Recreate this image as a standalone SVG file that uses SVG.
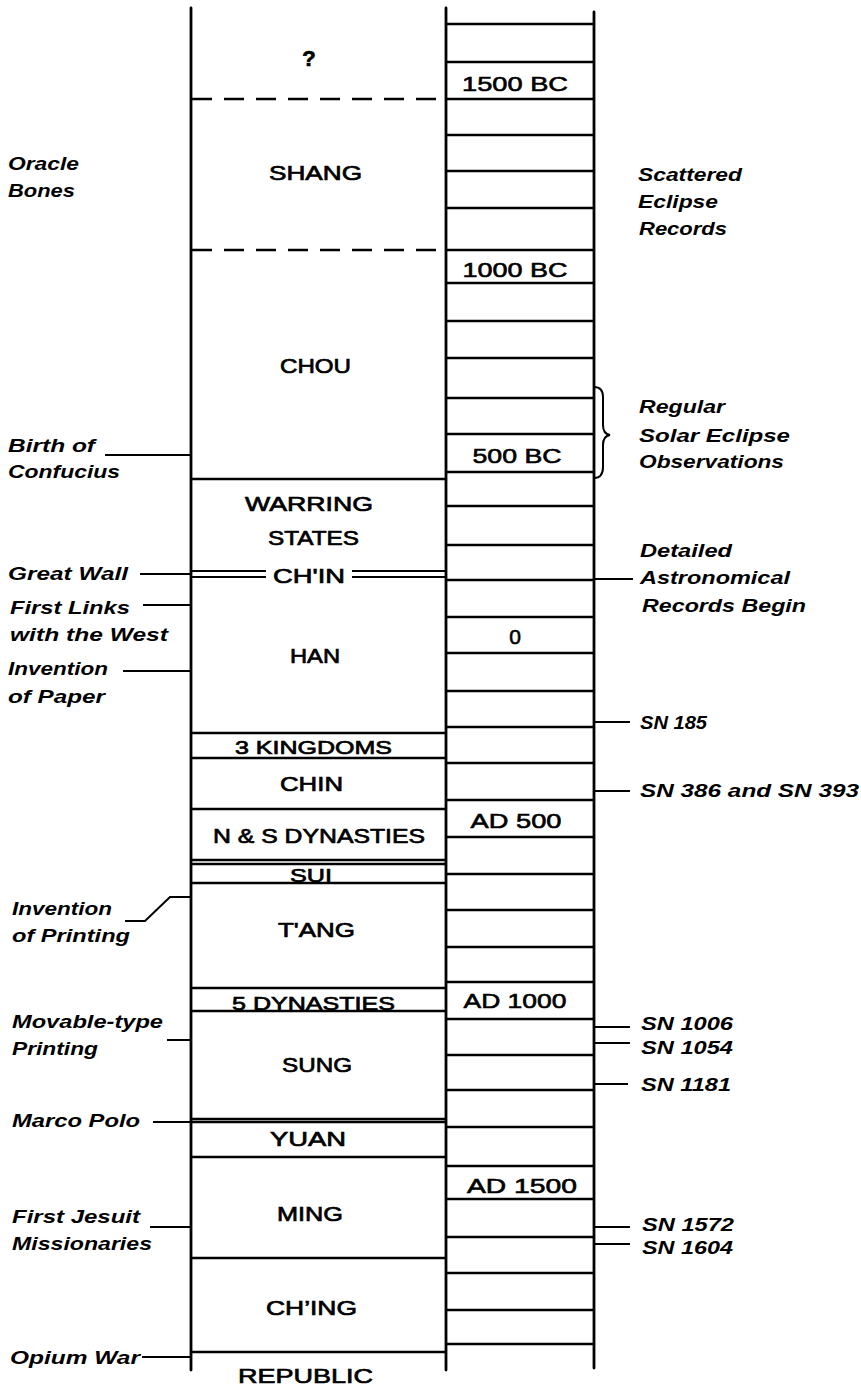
<svg xmlns="http://www.w3.org/2000/svg" width="861" height="1387" viewBox="0 0 861 1387">
<style>
.v{stroke:#000;stroke-width:2.8;fill:none;stroke-linecap:round}
.h{stroke:#000;stroke-width:2.5;fill:none}
.d{stroke:#000;stroke-width:2.5;fill:none;stroke-dasharray:20 12}
.c{stroke:#000;stroke-width:2;fill:none}
.dyn{font-family:"Liberation Sans",Arial,sans-serif;font-size:21px;fill:#000;stroke:#000;stroke-width:0.7;text-anchor:middle}
.sm{font-size:19px}
.yr{font-family:"Liberation Sans",Arial,sans-serif;font-size:21px;fill:#000;stroke:#000;stroke-width:0.6;text-anchor:middle}
.an{font-family:"Liberation Sans",Arial,sans-serif;font-size:18px;font-weight:bold;font-style:italic;fill:#000}
</style>
<rect width="861" height="1387" fill="#fff"/>
<g id="frame">
<line class="v" x1="191" y1="8" x2="191" y2="1370"/>
<line class="v" x1="446" y1="8" x2="446" y2="1370"/>
<line class="v" x1="594" y1="12" x2="594" y2="1368"/>
</g>
<g id="scale">
<path class="h" d="M446,24H594M446,62H594M446,99H594M446,135H594M446,171H594M446,208H594M446,250H594M446,283H594M446,321H594M446,358H594M446,398H594M446,434H594M446,472H594M446,506H594M446,545H594M446,580H594M446,617H594M446,653H594M446,691H594M446,727H594M446,763H594M446,800H594M446,837H594M446,874H594M446,910H594M446,947H594M446,982H594M446,1019H594M446,1055H594M446,1090H594M446,1127H594M446,1166H594M446,1199H594M446,1237H594M446,1273H594M446,1310H594M446,1344H594"/>
<text class="yr" x="515" y="91" textLength="106" lengthAdjust="spacingAndGlyphs">1500 BC</text>
<text class="yr" x="515" y="277" textLength="105" lengthAdjust="spacingAndGlyphs">1000 BC</text>
<text class="yr" x="517" y="463" textLength="89" lengthAdjust="spacingAndGlyphs">500 BC</text>
<text class="yr" x="515" y="644">0</text>
<text class="yr" x="516" y="828" textLength="91" lengthAdjust="spacingAndGlyphs">AD 500</text>
<text class="yr" x="515" y="1008" textLength="103" lengthAdjust="spacingAndGlyphs">AD 1000</text>
<text class="yr" x="522" y="1193" textLength="110" lengthAdjust="spacingAndGlyphs">AD 1500</text>
</g>
<g id="dynasties">
<g id="unknown"><text class="dyn" x="309" y="66" style="font-size:22px;font-weight:bold">?</text></g>
<line class="d" x1="192" y1="99" x2="446" y2="99"/>
<g id="shang"><text class="dyn" x="315.5" y="180" textLength="93" lengthAdjust="spacingAndGlyphs">SHANG</text></g>
<line class="d" x1="192" y1="250" x2="446" y2="250"/>
<g id="chou"><text class="dyn" x="315.5" y="373" textLength="71" lengthAdjust="spacingAndGlyphs">CHOU</text></g>
<line class="h" x1="191" y1="479" x2="446" y2="479"/>
<g id="warring-states">
<text class="dyn" x="309" y="511" textLength="128" lengthAdjust="spacingAndGlyphs">WARRING</text>
<text class="dyn" x="313.5" y="545" textLength="91" lengthAdjust="spacingAndGlyphs">STATES</text>
</g>
<g id="chin-qin">
<path class="h" style="stroke-width:1.9" d="M191,571H266M191,577H266M352,571H446M352,577H446"/>
<text class="dyn" x="309" y="583" textLength="72" lengthAdjust="spacingAndGlyphs">CH'IN</text>
</g>
<g id="han"><text class="dyn" x="315" y="663" textLength="50" lengthAdjust="spacingAndGlyphs">HAN</text></g>
<line class="h" x1="191" y1="733" x2="446" y2="733"/>
<g id="three-kingdoms"><text class="dyn sm" x="313.5" y="754" textLength="157" lengthAdjust="spacingAndGlyphs">3 KINGDOMS</text></g>
<line class="h" x1="191" y1="758" x2="446" y2="758"/>
<g id="chin"><text class="dyn" x="311.5" y="791" textLength="63" lengthAdjust="spacingAndGlyphs">CHIN</text></g>
<line class="h" x1="191" y1="809" x2="446" y2="809"/>
<g id="ns-dynasties"><text class="dyn" x="319" y="843" textLength="212" lengthAdjust="spacingAndGlyphs">N &amp; S DYNASTIES</text></g>
<line class="h" x1="191" y1="860" x2="446" y2="860"/>
<line class="h" x1="191" y1="864" x2="446" y2="864"/>
<g id="sui"><text class="dyn sm" x="311" y="882" textLength="42" lengthAdjust="spacingAndGlyphs">SUI</text></g>
<line class="h" x1="191" y1="883" x2="446" y2="883"/>
<g id="tang"><text class="dyn" x="316.5" y="937" textLength="77" lengthAdjust="spacingAndGlyphs">T'ANG</text></g>
<line class="h" x1="191" y1="988" x2="446" y2="988"/>
<g id="five-dynasties"><text class="dyn sm" x="313.5" y="1010" textLength="163" lengthAdjust="spacingAndGlyphs">5 DYNASTIES</text></g>
<line class="h" x1="191" y1="1011" x2="446" y2="1011"/>
<g id="sung"><text class="dyn" x="317" y="1072" textLength="70" lengthAdjust="spacingAndGlyphs">SUNG</text></g>
<line class="h" x1="191" y1="1119" x2="446" y2="1119"/>
<line class="h" x1="191" y1="1122" x2="446" y2="1122"/>
<g id="yuan"><text class="dyn" x="308" y="1146" textLength="76" lengthAdjust="spacingAndGlyphs">YUAN</text></g>
<line class="h" x1="191" y1="1157" x2="446" y2="1157"/>
<g id="ming"><text class="dyn" x="310" y="1221" textLength="66" lengthAdjust="spacingAndGlyphs">MING</text></g>
<line class="h" x1="191" y1="1258" x2="446" y2="1258"/>
<g id="ching"><text class="dyn" x="311.5" y="1315" textLength="91" lengthAdjust="spacingAndGlyphs">CH’ING</text></g>
<line class="h" x1="191" y1="1352" x2="446" y2="1352"/>
<g id="republic"><text class="dyn" x="305.5" y="1383" textLength="135" lengthAdjust="spacingAndGlyphs">REPUBLIC</text></g>
</g>
<g id="connectors">
<path class="c" d="M105,455H191"/>
<path class="c" d="M140,574H191"/>
<path class="c" d="M143,605H191"/>
<path class="c" d="M123,671H191"/>
<path class="c" d="M125,921H145L170,897H191"/>
<path class="c" d="M167,1040H191"/>
<path class="c" d="M153,1122H191"/>
<path class="c" d="M150,1227H191"/>
<path class="c" d="M142,1357H191"/>
<path class="c" d="M594,387Q603,387 603,397V425Q603,434 610,435Q603,436 603,445V467Q603,478 594,478"/>
<path class="c" d="M594,579H633"/>
<path class="c" d="M594,722H630"/>
<path class="c" d="M594,791H630"/>
<path class="c" d="M594,1027H630"/>
<path class="c" d="M594,1043H630"/>
<path class="c" d="M594,1084H628"/>
<path class="c" d="M594,1227H630"/>
<path class="c" d="M594,1244H630"/>
</g>
<g id="left-notes">
<text class="an" x="8" y="170" textLength="71" lengthAdjust="spacingAndGlyphs">Oracle</text>
<text class="an" x="8" y="197" textLength="67" lengthAdjust="spacingAndGlyphs">Bones</text>
<text class="an" x="8" y="452" textLength="87" lengthAdjust="spacingAndGlyphs">Birth of</text>
<text class="an" x="8" y="478" textLength="112" lengthAdjust="spacingAndGlyphs">Confucius</text>
<text class="an" x="8" y="580" textLength="120" lengthAdjust="spacingAndGlyphs">Great Wall</text>
<text class="an" x="10" y="614" textLength="120" lengthAdjust="spacingAndGlyphs">First Links</text>
<text class="an" x="10" y="641" textLength="158" lengthAdjust="spacingAndGlyphs">with the West</text>
<text class="an" x="8" y="675" textLength="100" lengthAdjust="spacingAndGlyphs">Invention</text>
<text class="an" x="8" y="703" textLength="97" lengthAdjust="spacingAndGlyphs">of Paper</text>
<text class="an" x="12" y="915" textLength="100" lengthAdjust="spacingAndGlyphs">Invention</text>
<text class="an" x="12" y="942" textLength="118" lengthAdjust="spacingAndGlyphs">of Printing</text>
<text class="an" x="12" y="1028" textLength="151" lengthAdjust="spacingAndGlyphs">Movable-type</text>
<text class="an" x="12" y="1055" textLength="86" lengthAdjust="spacingAndGlyphs">Printing</text>
<text class="an" x="12" y="1127" textLength="128" lengthAdjust="spacingAndGlyphs">Marco Polo</text>
<text class="an" x="12" y="1223" textLength="128" lengthAdjust="spacingAndGlyphs">First Jesuit</text>
<text class="an" x="12" y="1250" textLength="140" lengthAdjust="spacingAndGlyphs">Missionaries</text>
<text class="an" x="10" y="1364" textLength="130" lengthAdjust="spacingAndGlyphs">Opium War</text>
</g>
<g id="right-notes">
<text class="an" x="638" y="181" textLength="104" lengthAdjust="spacingAndGlyphs">Scattered</text>
<text class="an" x="638" y="208" textLength="80" lengthAdjust="spacingAndGlyphs">Eclipse</text>
<text class="an" x="639" y="235" textLength="88" lengthAdjust="spacingAndGlyphs">Records</text>
<text class="an" x="639" y="413" textLength="86" lengthAdjust="spacingAndGlyphs">Regular</text>
<text class="an" x="639" y="442" textLength="151" lengthAdjust="spacingAndGlyphs">Solar Eclipse</text>
<text class="an" x="639" y="468" textLength="145" lengthAdjust="spacingAndGlyphs">Observations</text>
<text class="an" x="640" y="557" textLength="92" lengthAdjust="spacingAndGlyphs">Detailed</text>
<text class="an" x="640" y="584" textLength="150" lengthAdjust="spacingAndGlyphs">Astronomical</text>
<text class="an" x="642" y="612" textLength="164" lengthAdjust="spacingAndGlyphs">Records Begin</text>
<text class="an" x="640" y="729" textLength="67" lengthAdjust="spacingAndGlyphs">SN 185</text>
<text class="an" x="640" y="797" textLength="219" lengthAdjust="spacingAndGlyphs">SN 386 and SN 393</text>
<text class="an" x="641" y="1030" textLength="92" lengthAdjust="spacingAndGlyphs">SN 1006</text>
<text class="an" x="641" y="1054" textLength="92" lengthAdjust="spacingAndGlyphs">SN 1054</text>
<text class="an" x="641" y="1091" textLength="90" lengthAdjust="spacingAndGlyphs">SN 1181</text>
<text class="an" x="642" y="1231" textLength="92" lengthAdjust="spacingAndGlyphs">SN 1572</text>
<text class="an" x="642" y="1254" textLength="91" lengthAdjust="spacingAndGlyphs">SN 1604</text>
</g>
</svg>
